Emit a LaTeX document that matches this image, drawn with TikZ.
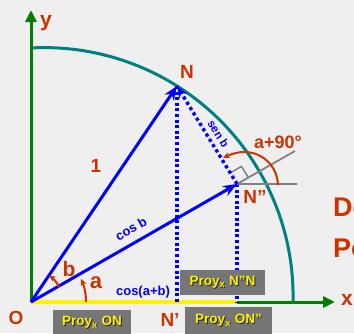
\documentclass[tikz,border=0pt]{standalone}
\usepackage{fontspec}
\setmainfont{Liberation Sans}
\usetikzlibrary{arrows.meta}
\definecolor{lab}{HTML}{CC3300}
\definecolor{bgc}{HTML}{EFEFEF}
\definecolor{axgreen}{HTML}{008000}
\definecolor{arcteal}{HTML}{008080}
\definecolor{boxgray}{HTML}{767676}
\definecolor{vblue}{HTML}{0000FF}
\newcommand\shtxt[1]{\makebox[0pt][l]{\kern0.9pt\raisebox{-0.9pt}{\textcolor{black!85}{#1}}}\textcolor{yellow}{#1}}
\tikzset{
  lbl/.style={text=lab, font=\fontsize{19}{22}\selectfont\bfseries, inner sep=0pt},
  small/.style={text=vblue, font=\fontsize{13}{15}\selectfont\bfseries, inner sep=0pt},
  vec/.style={vblue, line width=3pt, -{Stealth[length=14pt,width=11pt]}},
  proj/.style={vblue, line width=3.2pt, dash pattern=on 3pt off 2.6pt},
  axis/.style={axgreen, line width=3pt, -{Triangle[length=12pt,width=11pt]}},
  proybox/.style={fill=boxgray, inner sep=0pt, minimum height=25pt, font=\fontsize{13.5}{15}\selectfont\bfseries},
  angarc/.style={lab, line width=2pt, -{Stealth[length=7pt,width=6pt]}},
  guide/.style={gray, line width=1.8pt}
}
\begin{document}
\begin{tikzpicture}[x=1pt,y=-1pt]
\fill[bgc] (0,0) rectangle (354,333);
\useasboundingbox (0,0) rectangle (354,333);
% points
\coordinate (O) at (31,302);
\coordinate (N) at (177,86);
\coordinate (N2) at (237,184);
\coordinate (Np) at (177,302);
\coordinate (N2p) at (237,302);
\coordinate (ytip) at (31,10);
\coordinate (xtip) at (335,302);
\coordinate (gh) at (297,184);
\coordinate (ge) at (295,151);
% unit circle arc
\draw[arcteal, line width=3pt] plot[domain=-93.06:1.3, samples=80] ({44.3+248.8*cos(\x)}, {296.4+248.8*sin(\x)});
% axes
\draw[axis] (O) -- (ytip);
\draw[axis] (O) -- (xtip);
\draw[yellow, line width=3.5pt] (O) -- (N2p);
% projections
\draw[proj] (N) -- (Np);
\draw[proj] (N2) -- (N2p);
% guide lines at N''
\draw[guide] (N2) -- (gh);
\draw[guide] (N2) -- (ge);
\draw[gray, line width=1.5pt] (230.2,172.9) -- (241.5,166.4) -- (248.3,177.5);
% angle a+90
\draw[angarc] (278,185) .. controls (277,160) and (252,144) .. (223,158);
% vectors
\draw[vec] (O) -- (N);
\draw[vec] (O) -- (N2);
\draw[vblue, line width=3.4pt, dash pattern=on 3.2pt off 3pt, -{Stealth[length=12pt,width=9pt]}] (N2) -- (N);
% small angle arcs
\draw[angarc] ({31+55*cos(0)},{302+55*sin(0)}) arc[start angle=0, end angle=-25, radius=55];
\draw[angarc] ({31+32*cos(-28)},{302+32*sin(-28)}) arc[start angle=-28, end angle=-56, radius=32];
% labels
\node[lbl, font=\fontsize{21}{22}\selectfont\bfseries] (ylab) at (46,23) {y};
\node[lbl, font=\fontsize{21}{22}\selectfont\bfseries] (xlab) at (347,300) {x};
\node[lbl] (Olab) at (16,318) {O};
\node[lbl] (Nlab) at (187,72) {N};
\node[lbl] (N2lab) at (255,197) {N''};
\node[lbl] (Nplab) at (170,320) {N'};
\node[lbl] (one) at (96,166) {1};
\node[lbl, font=\fontsize{21}{22}\selectfont\bfseries] (blab) at (69,269) {b};
\node[lbl, font=\fontsize{22}{22}\selectfont\bfseries] (alab) at (96,283) {a};
\node[lbl, font=\fontsize{18}{20}\selectfont\bfseries] (a90) at (278,142) {a+90°};
\node[small, rotate=29.8] (cosb) at (131,229) {cos b};
\node[small, rotate=-58.5, font=\fontsize{11.5}{13}\selectfont\bfseries] (senb) at (218.5,134) {sen b};
\node[small] (cosab) at (143,292) {cos(a+b)};
\node[lbl, anchor=west, font=\fontsize{27}{30}\selectfont\bfseries] (De) at (333,207) {De};
\node[lbl, anchor=west, font=\fontsize{27}{30}\selectfont\bfseries] (Po) at (333,248) {Po};
% projection boxes
\node[proybox, minimum width=85pt] (b1) at (222.5,282.5) {\shtxt{Proy\textsubscript{x} N''N}};
\node[proybox, minimum width=87pt, minimum height=28pt] (b2) at (228.5,321) {\shtxt{Proy\textsubscript{x} ON''}};
\node[proybox, minimum width=78pt, minimum height=26pt] (b3) at (92,323) {\shtxt{Proy\textsubscript{x} ON}};
\end{tikzpicture}
\end{document}
